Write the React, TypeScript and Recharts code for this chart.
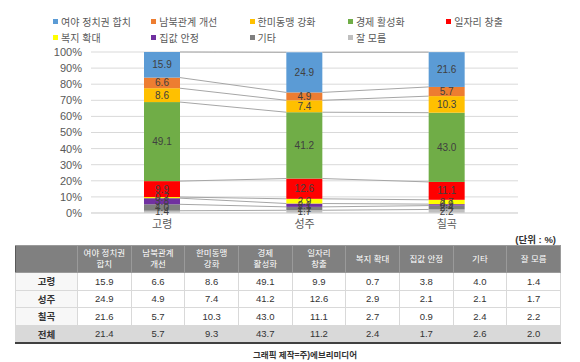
import React from 'react';
import { BarChart, Bar, XAxis, YAxis, CartesianGrid, LabelList } from 'recharts';

// 지역 (전체 is table only)
const regions = ['고령', '성주', '칠곡', '전체'];

// legend / table order
const seriesNames = [
  '여야 정치권 합치',
  '남북관계 개선',
  '한미동맹 강화',
  '경제 활성화',
  '일자리 창출',
  '복지 확대',
  '집값 안정',
  '기타',
  '잘 모름',
];
const headerLabels = [
  ['여야 정치권', '합치'],
  ['남북관계', '개선'],
  ['한미동맹', '강화'],
  ['경제', '활성화'],
  ['일자리', '창출'],
  ['복지 확대'],
  ['집값 안정'],
  ['기타'],
  ['잘 모름'],
];
const seriesColors = ['#5B9BD5', '#ED7D31', '#FFC000', '#70AD47', '#FF0000', '#FFFF00', '#7030A0', '#7F7F7F', '#BFBFBF'];

const politicalUnity = [15.9, 24.9, 21.6, 21.4];
const interKorean = [6.6, 4.9, 5.7, 5.7];
const alliance = [8.6, 7.4, 10.3, 9.3];
const economy = [49.1, 41.2, 43.0, 43.7];
const jobs = [9.9, 12.6, 11.1, 11.2];
const welfare = [0.7, 2.9, 2.7, 2.4];
const housing = [3.8, 2.1, 0.9, 1.7];
const other = [4.0, 2.1, 2.4, 2.6];
const unknown = [1.4, 1.7, 2.2, 2.0];

const seriesValues = [politicalUnity, interKorean, alliance, economy, jobs, welfare, housing, other, unknown];
const yTicks = [0, 10, 20, 30, 40, 50, 60, 70, 80, 90, 100];

const FONT = "'Liberation Sans', 'Noto Sans CJK KR', sans-serif";
const CHART_W = 580;
const Y_W = 91;
const M_RIGHT = 62;
const chartRegions = regions.slice(0, 3);
const BAND = (CHART_W - Y_W - M_RIGHT) / chartRegions.length;

// bottom of the stack first
const stackOrder = [8, 7, 6, 5, 4, 3, 2, 1, 0];

const chartData = chartRegions.map((region, i) => {
  const row: Record<string, any> = { region };
  seriesValues.forEach((vals, s) => {
    row['s' + s] = vals[i];
  });
  return row;
});

// cumulative top of each segment, per stack position
const cumTop = stackOrder.map((_, k) =>
  chartRegions.map((__, i) => stackOrder.slice(0, k + 1).reduce((sum, s) => sum + seriesValues[s][i], 0))
);

const makeShape = (k: number) => (props: any) => {
  const { x, y, width, height, index } = props;
  const s = stackOrder[k];
  const val = seriesValues[s][index];
  const ppu = val ? height / val : 0;
  return (
    <g>
      <rect x={x} y={y} width={width} height={height} fill={seriesColors[s]} />
      {index < chartRegions.length - 1 && (
        <line
          x1={x + width}
          y1={y}
          x2={x + BAND}
          y2={y + (cumTop[k][index] - cumTop[k][index + 1]) * ppu}
          stroke="#A6A6A6"
          strokeWidth={1}
        />
      )}
    </g>
  );
};

const legendRows = [
  [0, 1, 2, 3, 4],
  [5, 6, 7, 8],
];

const cellBase: React.CSSProperties = {
  border: '1px solid #D9D9D9',
  textAlign: 'center',
  padding: 0,
  color: '#333',
  fontSize: 9.5,
};

export default function App() {
  return (
    <div style={{ position: 'absolute', left: 0, top: 0, width: 580, height: 362, background: '#fff', fontFamily: FONT, overflow: 'hidden' }}>
      {legendRows.map((row, r) =>
        row.map((s, c) => (
          <div
            key={s}
            style={{ position: 'absolute', left: 53 + c * 98.3, top: r === 0 ? 14 : 30, height: 14, display: 'flex', alignItems: 'center', whiteSpace: 'nowrap' }}
          >
            <span style={{ width: 5, height: 5, background: seriesColors[s], marginRight: 3 }} />
            <span style={{ fontSize: 10, color: '#595959' }}>{seriesNames[s]}</span>
          </div>
        ))
      )}

      <div style={{ position: 'absolute', left: 0, top: 0 }}>
        <BarChart width={CHART_W} height={236} data={chartData} margin={{ top: 52, right: M_RIGHT, left: 0, bottom: 0 }} barSize={36}>
          <CartesianGrid vertical={false} stroke="#D9D9D9" />
          <XAxis
            dataKey="region"
            axisLine={{ stroke: '#D9D9D9' }}
            tickLine={false}
            tickSize={0}
            tickMargin={7}
            height={23}
            tick={{ fill: '#595959', fontSize: 11, fontFamily: FONT }}
          />
          <YAxis
            domain={[0, 100]}
            ticks={yTicks}
            interval={0}
            tickFormatter={(v) => `${v}%`}
            axisLine={false}
            tickLine={false}
            tickSize={0}
            tickMargin={9}
            width={Y_W}
            tick={{ fill: '#595959', fontSize: 11, fontFamily: FONT }}
          />
          {stackOrder.map((s, k) => (
            <Bar key={s} dataKey={'s' + s} stackId="a" fill={seriesColors[s]} shape={makeShape(k)} isAnimationActive={false}>
              <LabelList
                dataKey={'s' + s}
                position="center"
                formatter={(v: any) => Number(v).toFixed(1)}
                style={{ fill: '#404040', fontSize: 10, fontFamily: FONT }}
              />
            </Bar>
          ))}
        </BarChart>
      </div>

      <div style={{ position: 'absolute', left: 500, width: 56, top: 232, textAlign: 'right', fontSize: 9.5, fontWeight: 'bold', color: '#333' }}>
        (단위 : %)
      </div>

      <table
        style={{
          position: 'absolute',
          left: 15,
          top: 245,
          width: 546,
          borderCollapse: 'collapse',
          tableLayout: 'fixed',
          borderTop: '1px solid #595959',
          borderLeft: '1px solid #595959',
          borderRight: '1px solid #595959',
          borderBottom: '2px solid #404040',
        }}
      >
        <colgroup>
          <col style={{ width: 62 }} />
          {seriesNames.map((n) => (
            <col key={n} />
          ))}
        </colgroup>
        <thead>
          <tr style={{ height: 27 }}>
            <th style={{ ...cellBase, background: '#808080', border: '1px solid #9A9A9A', borderLeft: 'none' }} />
            {headerLabels.map((lines, i) => (
              <th
                key={i}
                style={{ ...cellBase, background: '#808080', border: '1px solid #9A9A9A', color: '#fff', fontSize: 8.5, fontWeight: 'normal', lineHeight: '11px' }}
              >
                {lines.map((l, j) => (
                  <div key={j}>{l}</div>
                ))}
              </th>
            ))}
          </tr>
        </thead>
        <tbody>
          {regions.map((region, r) => {
            const total = r === regions.length - 1;
            return (
              <tr key={region} style={{ height: 17.5, background: total ? '#D9D9D9' : '#fff' }}>
                <td style={{ ...cellBase, fontWeight: 'bold', background: total ? '#D9D9D9' : '#F7F7F7' }}>{region}</td>
                {seriesValues.map((vals, s) => (
                  <td key={s} style={cellBase}>
                    {vals[r].toFixed(1)}
                  </td>
                ))}
              </tr>
            );
          })}
        </tbody>
      </table>

      <div style={{ position: 'absolute', left: 205, width: 200, top: 348, textAlign: 'center', fontSize: 8.5, fontWeight: 'bold', color: '#333' }}>
        그래픽 제작=주)에브리미디어
      </div>
    </div>
  );
}
